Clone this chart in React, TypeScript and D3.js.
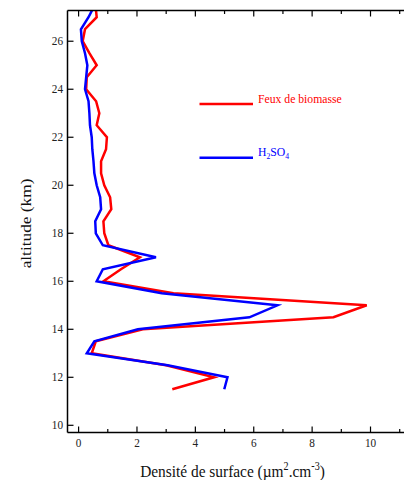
import React from "react";
import * as d3 from "d3";

const altitudes = [11.5, 12, 12.5, 13, 13.5, 14, 14.5, 15, 15.5, 16, 16.5, 17, 17.5, 18, 18.5, 19, 19.5, 20, 20.5, 21, 21.5, 22, 22.5, 23, 23.5, 24, 24.5, 25, 25.5, 26, 26.5, 27, 27.5];
const biomasse = [3.21, 4.64, 3.0, 0.45, 0.59, 2.2, 8.73, 9.87, 3.25, 0.85, 1.45, 2.1, 1.02, 0.88, 0.85, 1.12, 1.08, 0.88, 0.77, 0.77, 0.94, 0.97, 0.62, 0.71, 0.6, 0.26, 0.28, 0.62, 0.37, 0.14, 0.22, 0.62, 0.58];
const h2so4 = [4.99, 5.1, 3.05, 0.28, 0.54, 2.03, 5.85, 6.81, 2.85, 0.62, 0.83, 2.65, 0.83, 0.59, 0.57, 0.77, 0.74, 0.62, 0.54, 0.51, 0.47, 0.45, 0.39, 0.37, 0.34, 0.22, 0.26, 0.3, 0.22, 0.11, 0.08, 0.34, 0.55];
const xTicks = [0, 2, 4, 6, 8, 10];
const xMinorTicks = [1, 3, 5, 7, 9, 11];
const yTicks = [10, 12, 14, 16, 18, 20, 22, 24, 26];

const W = 404;
const H = 480;
const left = 67.5;
const top = 10.5;
const right = 420;
const bottom = 432.5;

const font = "Liberation Serif, Times New Roman, serif";
const ts = { fontFamily: font };

export default function App() {
  const x = d3.scaleLinear().domain([-0.38, (right - 78.5) / 29.2]).range([left, right]);
  const y = d3.scaleLinear().domain([9.7, 27.28]).range([bottom, top]);
  const line = d3
    .line<[number, number]>()
    .x((d) => x(d[0]))
    .y((d) => y(d[1]));
  const redData = altitudes.map((a, i) => [biomasse[i], a] as [number, number]);
  const blueData = altitudes.map((a, i) => [h2so4[i], a] as [number, number]);

  return (
    <svg width={W} height={H} style={{ position: "absolute", left: 0, top: 0 }}>
      <defs>
        <clipPath id="plot">
          <rect x={left} y={top} width={right - left} height={bottom - top} />
        </clipPath>
      </defs>
      <g clipPath="url(#plot)">
        <path d={line(redData) || ""} fill="none" stroke="#ff0000" strokeWidth={2.5} strokeLinejoin="miter" />
        <path d={line(blueData) || ""} fill="none" stroke="#0000ff" strokeWidth={2.5} strokeLinejoin="miter" />
      </g>
      {/* frame */}
      <line x1={left} x2={left} y1={top} y2={bottom} stroke="#000" strokeWidth={1.5} />
      <line x1={left} x2={W} y1={bottom} y2={bottom} stroke="#000" strokeWidth={1.5} />
      <line x1={left} x2={W} y1={top} y2={top} stroke="#000" strokeWidth={1.5} />
      {/* x ticks */}
      {xTicks.map((t) => (
        <g key={"xt" + t}>
          <line x1={x(t)} x2={x(t)} y1={bottom} y2={bottom - 6} stroke="#000" strokeWidth={1.2} />
          <line x1={x(t)} x2={x(t)} y1={top} y2={top + 6} stroke="#000" strokeWidth={1.2} />
          <text transform={`translate(${x(t)},447) scale(0.9,1)`} textAnchor="middle" fontSize={12.5} fill="#222" style={ts}>
            {t}
          </text>
        </g>
      ))}
      {xMinorTicks.map((t) => (
        <g key={"xm" + t}>
          <line x1={x(t)} x2={x(t)} y1={bottom} y2={bottom - 3.5} stroke="#000" strokeWidth={1.2} />
          <line x1={x(t)} x2={x(t)} y1={top} y2={top + 3.5} stroke="#000" strokeWidth={1.2} />
        </g>
      ))}
      {/* y ticks */}
      {yTicks.map((t) => (
        <g key={"yt" + t}>
          <line x1={left} x2={left + 6} y1={y(t)} y2={y(t)} stroke="#000" strokeWidth={1.2} />
          <text transform={`translate(${left - 4.5},${y(t) + 4.2}) scale(0.9,1)`} textAnchor="end" fontSize={12.5} fill="#222" style={ts}>
            {t}
          </text>
        </g>
      ))}
      {/* axis titles */}
      <text transform={`translate(232.5,477) scale(0.88,1)`} textAnchor="middle" fontSize={17.5} fill="#111" style={ts}>
        Densité de surface (µm<tspan dy={-7} fontSize={11.5}>2</tspan>
        <tspan dy={7}>.cm</tspan>
        <tspan dy={-7} fontSize={11.5}>-3</tspan>
        <tspan dy={7}>)</tspan>
      </text>
      <text transform={`translate(30.5,223.5) rotate(-90) scale(1,0.88)`} textAnchor="middle" fontSize={17.3} fill="#111" style={ts}>
        altitude (km)
      </text>
      {/* legend */}
      <line x1={199.5} x2={253} y1={104} y2={104} stroke="#ff0000" strokeWidth={2.5} />
      <text transform={`translate(258,102.5) scale(0.9,1)`} fontSize={13} fill="#ff0000" style={ts}>
        Feux de biomasse
      </text>
      <line x1={199.5} x2={253} y1={157.7} y2={157.7} stroke="#0000ff" strokeWidth={2.5} />
      <text transform={`translate(258,156) scale(0.9,1)`} fontSize={13} fill="#0000ff" style={ts}>
        H<tspan dy={3} fontSize={8.5}>2</tspan>
        <tspan dy={-3}>SO</tspan>
        <tspan dy={3} fontSize={8.5}>4</tspan>
      </text>
    </svg>
  );
}
